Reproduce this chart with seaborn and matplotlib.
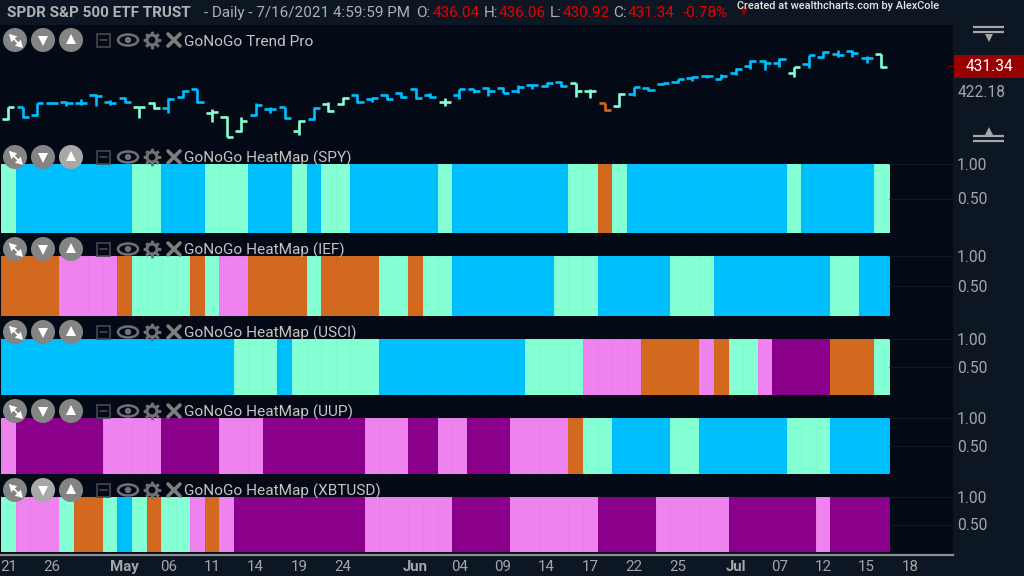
import numpy as np
import pandas as pd
import matplotlib
matplotlib.use("Agg")
import matplotlib.pyplot as plt
from matplotlib.colors import ListedColormap
from matplotlib.patches import Circle, Rectangle, Ellipse
import seaborn as sns

# ---------- data ----------
opens = [411.7, 416.5, 413.3, 418.0, 418.3, 418.0, 420.8, 418.3, 419.8, 416.2, 418.0, 416.1, 420.0, 423.0, 414.2,
         412.7, 407.5, 413.3, 415.5, 416.2, 407.5, 411.7, 417.5, 417.3, 420.8, 419.2, 420.8, 421.7, 423.1, 420.8, 418.3,
         420.7, 423.0, 423.3, 423.6, 422.3, 424.6, 424.2, 425.8, 425.2, 422.2, 417.7, 416.8, 421.1, 423.6, 425.0,
         425.8, 427.2, 428.0, 427.0, 429.0, 431.6, 433.7, 433.0, 429.0, 432.5, 435.2, 436.2, 437.5, 434.7, 436.04]
highs = [416.5, 416.5, 418.0, 418.3, 418.7, 419.2, 421.1, 419.0, 420.2, 416.5, 418.3, 419.6, 422.7, 423.2, 415.6,
         413.0, 412.5, 417.7, 416.5, 416.5, 411.5, 416.5, 418.3, 420.0, 421.1, 420.0, 421.1, 421.8, 423.3, 421.5, 419.6,
         423.0, 423.2, 423.7, 423.8, 424.6, 424.8, 425.8, 426.1, 425.5, 423.0, 418.0, 421.5, 424.0, 424.0, 425.5,
         427.0, 428.1, 428.3, 428.7, 430.8, 434.0, 434.0, 434.7, 431.5, 436.0, 437.2, 437.7, 437.7, 435.5, 436.06]
lows = [411.5, 412.1, 413.0, 417.5, 416.7, 417.1, 416.7, 417.1, 418.0, 412.1, 415.7, 414.2, 419.6, 418.0, 410.6,
        405.0, 407.1, 413.0, 414.2, 411.8, 405.8, 411.5, 414.6, 417.1, 418.0, 418.3, 419.0, 419.6, 419.2, 419.6, 416.7,
        419.2, 421.7, 420.6, 421.5, 421.7, 423.1, 423.7, 424.0, 420.2, 419.6, 414.8, 416.2, 420.5, 422.3, 424.6,
        425.5, 426.1, 427.3, 426.7, 428.3, 430.6, 430.2, 431.5, 427.7, 430.8, 434.8, 435.2, 435.0, 432.7, 430.92]
closes = [416.5, 412.5, 417.7, 418.0, 418.0, 417.7, 420.6, 417.7, 418.3, 416.2, 416.1, 419.2, 422.5, 418.2, 414.6,
          405.2, 410.9, 417.1, 415.5, 412.1, 411.2, 415.8, 415.0, 419.6, 418.2, 419.6, 419.2, 420.0, 419.6, 420.2, 418.3,
          423.0, 422.2, 422.3, 421.7, 423.7, 424.6, 425.2, 424.2, 422.5, 422.2, 415.1, 421.3, 423.7, 422.7, 425.5,
          426.7, 427.7, 428.0, 428.1, 430.7, 433.7, 433.0, 434.5, 431.2, 435.7, 437.0, 435.7, 436.5, 434.6, 431.34]

# runs of (state, length); L=weak go, B=go, O=no-go weak, P=pink, D=purple
spy_runs = [("L",1),("B",8),("L",2),("B",3),("L",3),("B",3),("L",1),("B",1),("L",2),("B",6),("L",1),("B",8),
            ("L",2),("O",1),("L",1),("B",11),("L",1),("B",5),("L",1)]
ief_runs = [("O",4),("P",4),("O",1),("L",4),("O",1),("L",1),("P",2),("O",4),("L",1),("O",4),("L",2),("O",1),("L",2),
            ("B",7),("L",3),("B",5),("L",3),("B",8),("L",2),("B",2)]
usci_runs = [("B",16),("L",3),("B",1),("L",6),("B",10),("L",4),("P",4),("O",4),("P",1),("O",1),("L",2),("P",1),
             ("D",4),("O",3),("L",1)]
uup_runs = [("P",1),("D",6),("P",4),("D",4),("P",3),("D",7),("P",3),("D",2),("P",2),("D",3),("P",4),("O",1),("L",2),
            ("B",4),("L",2),("B",6),("L",3),("B",4)]
xbt_runs = [("L",1),("P",3),("L",1),("O",2),("L",1),("B",1),("L",1),("O",1),("L",2),("P",1),("O",1),("P",1),("D",9),
            ("P",6),("D",4),("P",6),("D",4),("P",5),("D",6),("P",1),("D",4)]
panel_names = ["SPY", "IEF", "USCI", "UUP", "XBTUSD"]
panel_runs = [spy_runs, ief_runs, usci_runs, uup_runs, xbt_runs]

time_ticks = [0, 3, 8, 11, 14, 17, 20, 23, 28, 31, 34, 37, 40, 43, 46, 50, 53, 56, 59, 62]
time_labels = ["21", "26", "May", "06", "11", "14", "19", "24", "Jun", "04", "09", "14", "17", "22", "25", "Jul",
               "07", "12", "15", "18"]
bold_labels = {"May", "Jun", "Jul"}
last_price = 431.34
mid_price = 422.18

# ---------- style ----------
W, H = 1024, 576
SIDE = "#0d1723"
PANEL = "#040a15"
GRID = "#15191e"
colors = {"L": "#85ffd4", "B": "#00bfff", "O": "#d2691e", "P": "#ee82ee", "D": "#8b008b"}
order = list(colors)
cmap = ListedColormap([colors[k] for k in order])

sns.set_theme(style="dark", rc={"axes.grid": False})
plt.rcParams["font.family"] = ["Roboto", "DejaVu Sans"]

fig = plt.figure(figsize=(W / 100, H / 100), dpi=100, facecolor=SIDE)


def axes_px(x0, y0, x1, y1, **kw):
    return fig.add_axes([x0 / W, 1 - y1 / H, (x1 - x0) / W, (y1 - y0) / H], **kw)


RIGHT = 953
BAR = 14.55
XLIM = (-1 / BAR, (RIGHT - 1) / BAR)


def style_right(ax):
    ax.set_facecolor(PANEL)
    for s in ax.spines.values():
        s.set_visible(False)
    ax.yaxis.tick_right()
    ax.tick_params(axis="y", length=0, pad=3, labelsize=11.2, labelcolor="#a6a6a6", left=False, right=False,
                   labelleft=False, labelright=True)
    ax.tick_params(axis="x", length=0, labelbottom=False, bottom=False)
    ax.set_xlabel("")
    ax.set_ylabel("")


# background of the chart area
bg = axes_px(0, 25, RIGHT, 555)
bg.set_facecolor(PANEL)
bg.set_xticks([])
bg.set_yticks([])
for s in bg.spines.values():
    s.set_visible(False)

# ---------- price panel ----------
PY0, PY1 = 25, 142
ax = axes_px(0, PY0, RIGHT, PY1)
style_right(ax)
ax.set_facecolor("none")
state = [s for s, n in spy_runs for _ in range(n)]
xs = np.arange(len(closes)) + 0.5
bar_cols = [colors[s] for s in state]
LW = 1.9
ax.vlines(xs, lows, highs, colors=bar_cols, linewidth=LW, capstyle="butt", zorder=3)
ax.hlines(opens, xs - 0.42, xs, colors=bar_cols, linewidth=LW, capstyle="butt", zorder=3)
ax.hlines(closes, xs, xs + 0.42, colors=bar_cols, linewidth=LW, capstyle="butt", zorder=3)
ax.set_xlim(*XLIM)
ax.set_ylim(403.2, 447.1)
ax.set_yticks([mid_price])
ax.set_yticklabels([f"{mid_price:.2f}"])

# ---------- heat map panels ----------
panel_y = [(164, 233), (256, 316), (339, 395), (418, 474), (497, 552)]
for name, runs, (y0, y1) in zip(panel_names, panel_runs, panel_y):
    codes = [order.index(s) for s, n in runs for _ in range(n)]
    frame = pd.DataFrame([codes])
    a = axes_px(0, y0, RIGHT, y1)
    sns.heatmap(frame, ax=a, cmap=cmap, vmin=-0.5, vmax=4.5, cbar=False, xticklabels=False, yticklabels=False,
                linewidths=0.5, linecolor=(0, 0, 0, 0.025))
    a.set_xlim(*XLIM)
    a.set_ylim(1, 0)
    a.set_yticks([0, 0.5])
    a.set_yticklabels(["1.00", "0.50"])
    a.set_xticks([])
    style_right(a)
    a.set_facecolor("none")
    a.hlines([0, 0.5, 1], len(codes), XLIM[1], colors=GRID, linewidth=0.8, zorder=1)

# ---------- time axis ----------
t = axes_px(0, 555, RIGHT, 576)
t.set_facecolor(SIDE)
t.set_xlim(*XLIM)
t.set_ylim(0, 1)
t.set_yticks([])
t.set_xticks(np.array(time_ticks) + 0.5)
t.set_xticklabels(time_labels)
t.tick_params(axis="x", direction="in", length=0, pad=-11.5, labelsize=10.8, labelcolor="#a6a6a6",
              bottom=False, labelbottom=True)
for lab in t.get_xticklabels():
    if lab.get_text() in bold_labels:
        lab.set_fontweight("bold")
for k, s in t.spines.items():
    s.set_visible(k == "top")
t.spines["top"].set_color("#8c8f93")
t.spines["top"].set_linewidth(1.6)

# ---------- overlay: header, buttons, price flags ----------
ov = fig.add_axes([0, 0, 1, 1], facecolor="none", zorder=20)
ov.set_xlim(0, W)
ov.set_ylim(H, 0)
ov.axis("off")

HEAD = "#aeb0b2"
RED = "#e60000"
ov.text(7, 13, "SPDR S&P 500 ETF TRUST", color=HEAD, fontsize=11, fontweight="bold", va="center")
ov.text(204, 13, "- Daily - 7/16/2021 4:59:59 PM", color=HEAD, fontsize=11, va="center")
for x, s, c in [(416, "O:", HEAD), (433, f"{opens[-1]:.2f}", RED), (484, "H:", HEAD), (499, f"{highs[-1]:.2f}", RED),
                (550, "L:", HEAD), (563, f"{lows[-1]:.2f}", RED), (613, "C:", HEAD), (628, f"{closes[-1]:.2f}", RED),
                (683, "-0.78%", RED)]:
    ov.text(x, 13, s, color=c, fontsize=11, va="center")
ov.plot([744], [12], marker="v", ms=6, color="#8e0000", mew=0)
ov.text(737, 6, "Created at wealthcharts.com by AlexCole", color="#e6e6e6", fontsize=7.9, fontweight="medium",
        va="center")

# right-hand price flag and scale handles
ov.add_patch(Rectangle((954, 55), 70, 23, color="#990000", lw=0, zorder=3))
ov.text(989, 66.5, f"{last_price:.2f}", color="white", fontsize=11.2, ha="center", va="center", zorder=4)
ov.plot([948, 953], [66, 66], color="#7a0000", lw=1)
for y in (26.5, 31.5, 136, 141):
    ov.plot([973, 1004], [y, y], color="#a6a6a6", lw=1.6, solid_capstyle="butt")
ov.plot([988.5], [37.5], marker="v", ms=6, color="#a6a6a6", mew=0)
ov.plot([988.5], [130.5], marker="^", ms=6, color="#a6a6a6", mew=0)


def controls(yc, label, light=None):
    shade = ["#848484", "#848484", "#848484"]
    if light is not None:
        shade[light] = "#a8a8a8"
    for cx, col in zip((15, 43, 71), shade):
        ov.add_patch(Circle((cx, yc), 12, color=col, lw=0, zorder=5))
    # expand arrows
    ov.plot([10, 20], [yc - 5, yc + 5], color="white", lw=1.2, zorder=6)
    ov.plot([11.5], [yc - 3.5], marker=(3, 0, 45), ms=7, color="white", mew=0, zorder=6)
    ov.plot([18.5], [yc + 3.5], marker=(3, 0, 225), ms=7, color="white", mew=0, zorder=6)
    ov.plot([43], [yc + 1], marker="v", ms=7.5, color="white", mew=0, zorder=6)
    ov.plot([71], [yc - 1], marker="^", ms=7.5, color="white", mew=0, zorder=6)
    # collapse box
    ov.add_patch(Rectangle((97, yc - 6.5), 13, 13, fill=False, ec="#45494e", lw=1.2, zorder=6))
    ov.plot([100, 107], [yc, yc], color="#45494e", lw=1.2, zorder=6)
    # eye
    ov.add_patch(Ellipse((128, yc), 20, 11, fill=False, ec="#6f7174", lw=1.8, zorder=6))
    ov.add_patch(Circle((128, yc), 3.2, color="#6f7174", lw=0, zorder=6))
    # gear
    ov.add_patch(Circle((152, yc), 5, fill=False, ec="#6f7174", lw=2.2, zorder=6))
    ov.plot([152], [yc], marker=(8, 2, 0), ms=12.5, mew=1.8, color="#6f7174", zorder=5)
    ov.add_patch(Circle((152, yc), 3.4, color=PANEL, lw=0, zorder=6))
    # close
    ov.plot([168, 180], [yc - 6, yc + 6], color="#7e7e7e", lw=2.6, zorder=6)
    ov.plot([168, 180], [yc + 6, yc - 6], color="#7e7e7e", lw=2.6, zorder=6)
    ov.text(184, yc + 1.5, label, color="#c4c4c4", fontsize=11.1, va="center", zorder=7)


controls(40, "GoNoGo Trend Pro", light=None)
controls(157, "GoNoGo HeatMap (SPY)", light=2)
controls(249, "GoNoGo HeatMap (IEF)")
controls(332, "GoNoGo HeatMap (USCI)")
controls(411, "GoNoGo HeatMap (UUP)")
controls(490, "GoNoGo HeatMap (XBTUSD)", light=1)

fig.savefig("out.png", dpi=100, facecolor=fig.get_facecolor())
